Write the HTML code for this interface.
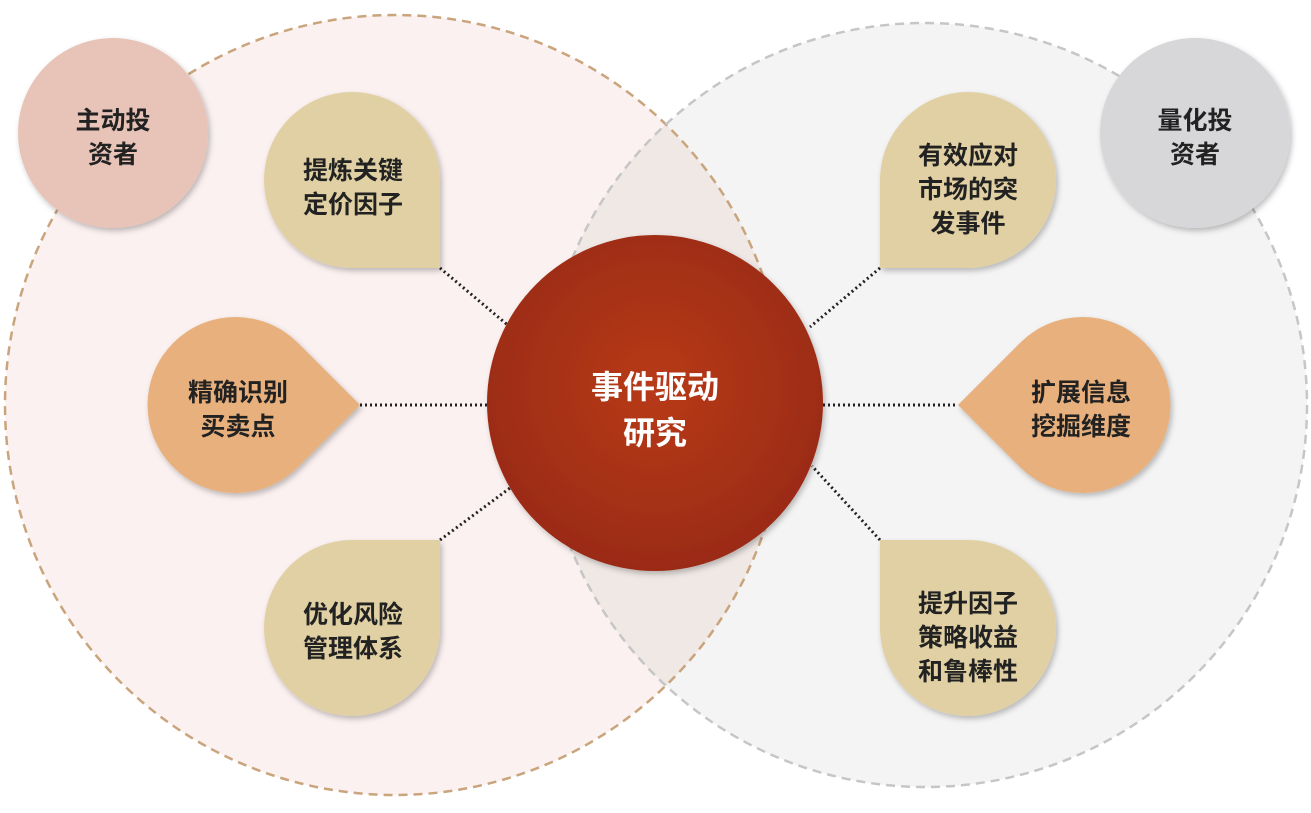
<!DOCTYPE html>
<html><head><meta charset="utf-8"><style>
html,body{margin:0;padding:0;background:#fff;}
body{width:1311px;height:813px;position:relative;overflow:hidden;font-family:"Liberation Sans","Noto Sans CJK SC",sans-serif;}
svg{position:absolute;left:0;top:0;}
.t{position:absolute;text-align:center;font-weight:bold;color:#222;font-size:25px;line-height:34px;display:flex;align-items:center;justify-content:center;}
</style></head><body>
<svg width="1311" height="813" viewBox="0 0 1311 813">
<defs>
<radialGradient id="g" cx="50%" cy="45%" r="55%"><stop offset="0" stop-color="#b83a1a"/><stop offset="1" stop-color="#9a2b12"/></radialGradient>
<filter id="sh" x="-20%" y="-20%" width="140%" height="140%"><feDropShadow dx="2" dy="3" stdDeviation="3" flood-opacity="0.25"/></filter>
<clipPath id="lc"><circle cx="395" cy="405" r="390"/></clipPath>
</defs>
<circle cx="395" cy="405" r="390" fill="#fbf1f0"/>
<circle cx="925" cy="405" r="382" fill="#f5f4f4"/>
<circle cx="925" cy="405" r="382" fill="#efe8e5" clip-path="url(#lc)"/>
<circle cx="395" cy="405" r="390" fill="none" stroke="#c9a47c" stroke-width="2.5" stroke-dasharray="9 6"/>
<circle cx="925" cy="405" r="382" fill="none" stroke="#c6c6c6" stroke-width="2.5" stroke-dasharray="9 6"/>
<g stroke="#222" stroke-width="3" stroke-dasharray="2 3">
<line x1="440" y1="268" x2="510" y2="327"/>
<line x1="360" y1="405" x2="488" y2="405"/>
<line x1="440" y1="540" x2="510" y2="488"/>
<line x1="880" y1="268" x2="810" y2="327"/>
<line x1="823" y1="405" x2="958" y2="405"/>
<line x1="880" y1="540" x2="812" y2="466"/>
</g>
<circle cx="113" cy="133" r="95" fill="#e8c3b7" filter="url(#sh)"/>
<circle cx="1195" cy="133" r="95" fill="#d7d7d9" filter="url(#sh)"/>
<circle cx="655" cy="403" r="168" fill="url(#g)" filter="url(#sh)"/>
<g filter="url(#sh)">
<path d="M440,268 L352,268 A88,88 0 1 1 440,180 Z" fill="#e0d0a3"/>
<path d="M440,540 L440,628 A88,88 0 1 1 352,540 Z" fill="#e0d0a3"/>
<path d="M880,268 L968,268 A88,88 0 1 0 880,180 Z" fill="#e0d0a3"/>
<path d="M880,540 L880,628 A88,88 0 1 0 968,540 Z" fill="#e0d0a3"/>
<path d="M360,405 L298,343 A88,88 0 1 0 298,467 Z" fill="#e8b07c"/>
<path d="M958,405 L1020,343 A88,88 0 1 1 1020,467 Z" fill="#e8b07c"/>
</g>
</svg>
<div class="t" style="left:18px;top:93px;width:190px;height:90px;">主动投<br>资者</div>
<div class="t" style="left:1100px;top:93px;width:190px;height:90px;">量化投<br>资者</div>
<div class="t" style="left:265px;top:143px;width:176px;height:90px;">提炼关键<br>定价因子</div>
<div class="t" style="left:150px;top:365px;width:176px;height:90px;">精确识别<br>买卖点</div>
<div class="t" style="left:265px;top:587px;width:176px;height:90px;">优化风险<br>管理体系</div>
<div class="t" style="left:880px;top:135px;width:176px;height:110px;">有效应对<br>市场的突<br>发事件</div>
<div class="t" style="left:993px;top:365px;width:176px;height:90px;">扩展信息<br>挖掘维度</div>
<div class="t" style="left:880px;top:583px;width:176px;height:110px;">提升因子<br>策略收益<br>和鲁棒性</div>
<div class="t" style="left:487px;top:365px;width:336px;height:90px;color:#fff;font-size:32px;line-height:46px;">事件驱动<br>研究</div>
</body></html>
